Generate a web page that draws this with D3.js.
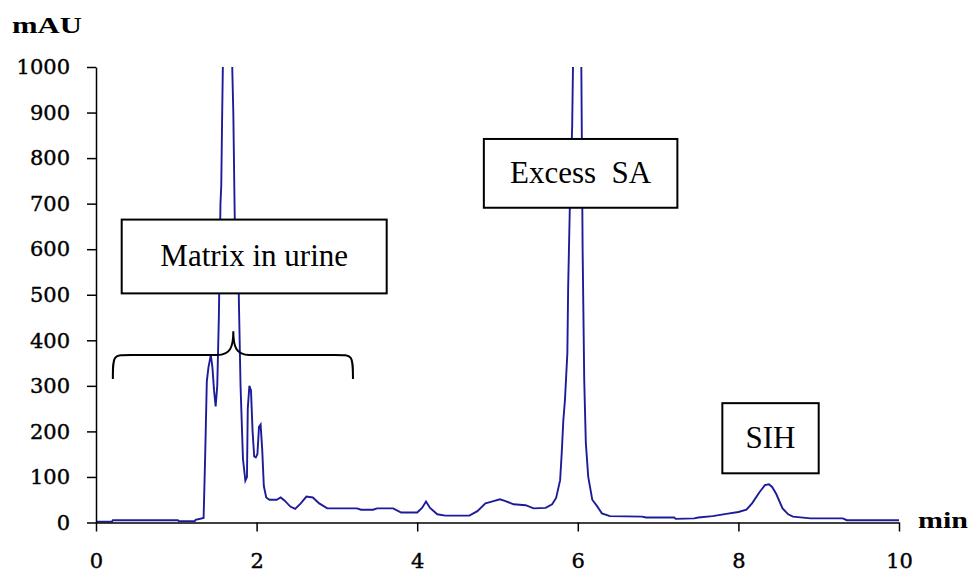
<!DOCTYPE html>
<html lang="en">
<head>
<meta charset="UTF-8">
<title>chromatogram</title>
<script src="https://cdn.jsdelivr.net/npm/d3@7"></script>
<style>
  body { margin: 0; background: #fff; }
  svg { display: block; }
</style>
</head>
<body>
<svg id="chart" width="972" height="572"></svg>
<script>
// retention time (min) and absorbance (mAU)
const times = [0, 0.2, 0.21, 1.02, 1.03, 1.23, 1.24, 1.34, 1.36, 1.38, 1.40, 1.43, 1.45, 1.47, 1.49, 1.51, 1.53, 1.55, 1.56, 1.57,
  1.62, 1.67, 1.69, 1.71, 1.73, 1.75, 1.77, 1.78, 1.80, 1.83, 1.86, 1.88, 1.89, 1.91, 1.93, 1.95, 1.97, 1.99, 2.01, 2.03, 2.05, 2.07, 2.09, 2.12,
  2.16, 2.25, 2.30, 2.35, 2.42, 2.48, 2.55, 2.62, 2.70, 2.78, 2.88, 3.25, 3.30, 3.45, 3.50, 3.70, 3.80, 4.00, 4.06, 4.11, 4.16, 4.25, 4.35,
  4.65, 4.75, 4.85, 4.95, 5.03, 5.10, 5.20, 5.35, 5.45, 5.60, 5.68, 5.73, 5.78, 5.80, 5.82, 5.84, 5.87, 5.88, 5.90, 5.93, 5.94,
  5.99, 6.04, 6.06, 6.08, 6.10, 6.13, 6.18, 6.24, 6.30, 6.40, 6.80, 6.85, 7.20, 7.22, 7.45, 7.50, 7.68, 7.85, 8.00, 8.10, 8.17,
  8.26, 8.33, 8.38, 8.42, 8.47, 8.55, 8.62, 8.68, 8.90, 9.30, 9.35, 10];
const mAU = [2, 2, 5, 5, 3, 3, 6, 10, 150, 310, 340, 368, 340, 290, 255, 300, 450, 700, 740, 880,
  1500, 1400, 1050, 900, 640, 560, 600, 480, 300, 140, 92, 100, 250, 300, 290, 200, 145, 143, 150, 210, 215, 160, 80, 55,
  50, 50, 55, 48, 35, 30, 42, 57, 55, 42, 31, 31, 28, 28, 31, 31, 22, 22, 32, 46, 32, 18, 15,
  15, 25, 42, 47, 51, 47, 40, 38, 31, 32, 40, 54, 93, 153, 225, 269, 372, 517, 686, 870, 1000,
  1900, 1100, 600, 313, 175, 100, 50, 36, 20, 14, 13, 11, 11, 8, 9, 11, 14, 19, 23, 28, 42,
  66, 82, 84, 78, 63, 31, 18, 13, 9, 9, 5, 5];

const xTicks = [0, 2, 4, 6, 8, 10];
const yTicks = [0, 100, 200, 300, 400, 500, 600, 700, 800, 900, 1000];

// text boxes: [label, x0 min, x1 min, top mAU, bottom mAU]
const boxLabels = ["Matrix in urine", "Excess  SA", "SIH"];
const boxX = [[0.32, 3.62], [4.83, 7.24], [7.80, 9.0]];
const boxY = [[665, 503], [842, 691], [262, 108]];

// brace under the matrix label: ends, tip, level (min / mAU)
const braceX = [0.21, 1.71, 3.20];
const braceY = [315, 420, 368];

const svg = d3.select("#chart");
const x = d3.scaleLinear().domain([0, 10]).range([96, 899]);
const y = d3.scaleLinear().domain([0, 1000]).range([522.5, 67]);

svg.append("clipPath").attr("id", "plot")
  .append("rect").attr("x", 90).attr("y", y(1000)).attr("width", 820).attr("height", y(0) - y(1000) + 5);

const line = d3.line().x(d => x(d[0])).y(d => y(d[1]));
svg.append("path")
  .datum(d3.zip(times, mAU))
  .attr("clip-path", "url(#plot)")
  .attr("d", line)
  .attr("fill", "none")
  .attr("stroke", "#1c1c9a")
  .attr("stroke-width", 1.9);

// axes
const xAxis = svg.append("g")
  .attr("transform", `translate(0,${y(0)})`)
  .call(d3.axisBottom(x).tickValues(xTicks).tickFormat(d3.format("d")).tickSize(9).tickSizeOuter(0).tickPadding(22));
const yAxis = svg.append("g")
  .attr("transform", `translate(${x(0)},0)`)
  .call(d3.axisLeft(y).tickValues(yTicks).tickFormat(d3.format("d")).tickSize(9).tickSizeOuter(0).tickPadding(17));

[xAxis, yAxis].forEach(g => {
  g.selectAll("path, line").attr("stroke", "#000").attr("stroke-width", 1.5);
  g.selectAll("text")
    .attr("fill", "#000")
    .attr("stroke", "#000")
    .attr("stroke-width", 0.4)
    .style("font-family", "'DejaVu Serif', serif")
    .style("font-size", "21px");
});

svg.append("text").attr("x", 12).attr("y", 33).text("mAU")
  .attr("textLength", 70).attr("lengthAdjust", "spacingAndGlyphs")
  .style("font-family", "'Liberation Serif', serif").style("font-weight", "bold").style("font-size", "23px");
svg.append("text").attr("x", 918).attr("y", 528).text("min")
  .attr("textLength", 50).attr("lengthAdjust", "spacingAndGlyphs")
  .style("font-family", "'Liberation Serif', serif").style("font-weight", "bold").style("font-size", "23px");

// brace
const bx0 = x(braceX[0]), bt = x(braceX[1]), bx1 = x(braceX[2]);
const by0 = y(braceY[0]), byt = y(braceY[1]), byl = y(braceY[2]);
const r = 18, rt = 16;
svg.append("path")
  .attr("d", `M${bx0},${by0} C${bx0},${byl} ${bx0},${byl} ${bx0 + r},${byl}
    L${bt - rt},${byl} C${bt - 3},${byl} ${bt},${byl - 8} ${bt},${byt}
    C${bt},${byl - 8} ${bt + 3},${byl} ${bt + rt},${byl}
    L${bx1 - r},${byl} C${bx1},${byl} ${bx1},${byl} ${bx1},${by0}`)
  .attr("fill", "none")
  .attr("stroke", "#000")
  .attr("stroke-width", 2);

// label boxes
boxLabels.forEach((label, i) => {
  const x0 = x(boxX[i][0]), x1 = x(boxX[i][1]);
  const y0 = y(boxY[i][0]), y1 = y(boxY[i][1]);
  svg.append("rect")
    .attr("x", x0).attr("y", y0)
    .attr("width", x1 - x0).attr("height", y1 - y0)
    .attr("fill", "#fff").attr("stroke", "#000").attr("stroke-width", 2);
  svg.append("text")
    .attr("x", (x0 + x1) / 2).attr("y", (y0 + y1) / 2 + 10)
    .attr("text-anchor", "middle")
    .style("white-space", "pre")
    .style("font-family", "'Liberation Serif', 'Times New Roman', serif")
    .style("font-size", "31px")
    .text(label);
});
</script>
</body>
</html>
